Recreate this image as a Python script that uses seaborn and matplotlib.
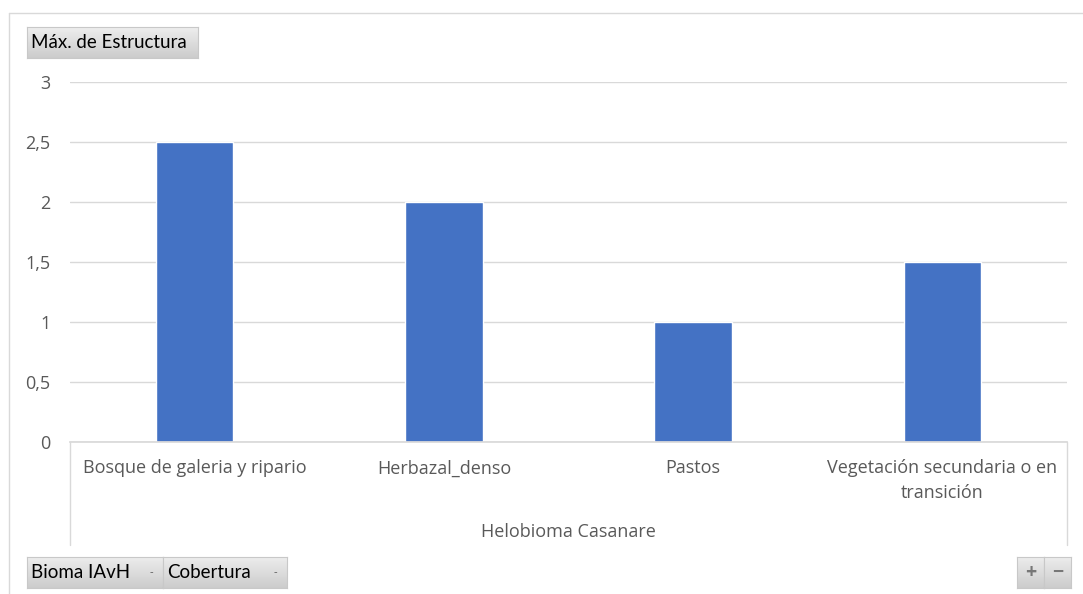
import numpy as np
import pandas as pd
import matplotlib
matplotlib.use("Agg")
import matplotlib.pyplot as plt
import seaborn as sns
from matplotlib.lines import Line2D

coberturas = ["Bosque de galeria y ripario", "Herbazal_denso", "Pastos",
              "Vegetación secundaria o en\ntransición"]
max_estructura = [2.5, 2.0, 1.0, 1.5]
bioma = "Helobioma Casanare"
yticks = [0, 0.5, 1, 1.5, 2, 2.5, 3]

sns.set_theme(style="white")
plt.rcParams['font.family'] = ['Open Sans', 'DejaVu Sans']

W, H = 1083, 594
fig = plt.figure(figsize=(W / 100, H / 100), dpi=100)

def fx(px):
    return px / W

def fy(py):
    return 1 - py / H

ax = fig.add_axes([fx(70), fy(442), fx(1067) - fx(70), fy(82) - fy(442)])

df = pd.DataFrame({"Cobertura": coberturas, "Max": max_estructura})
sns.barplot(data=df, x="Cobertura", y="Max", color="#4472C4", width=0.31,
            saturation=1, ax=ax)
ax.set_xlim(-0.5, 3.5)
ax.set_ylim(0, 3)
ax.set_yticks(yticks)
ax.set_yticklabels([("%g" % t).replace(".", ",") for t in yticks])
ax.yaxis.grid(True, color="#d9d9d9", linewidth=1)
ax.set_axisbelow(True)
for s in ["top", "right", "left"]:
    ax.spines[s].set_visible(False)
ax.spines["bottom"].set_color("#d9d9d9")
ax.tick_params(axis="y", length=0, labelsize=13, labelcolor="#595959", pad=14)
ax.tick_params(axis="x", length=0, labelsize=13, labelcolor="#595959", pad=12.5)
ax.set_xlabel("")
ax.set_ylabel("")
for lab in ax.get_xticklabels():
    lab.set_ha("center")
    lab.set_multialignment("center")
    lab.set_linespacing(1.45)

# category box lines
for px in (70, 1067):
    fig.add_artist(Line2D([fx(px), fx(px)], [fy(442), fy(545)], color="#d9d9d9", lw=1))
fig.text(fx(568), fy(532), bioma, ha="center", va="center", fontsize=13, color="#595959")

# outer chart border
fig.add_artist(Line2D([fx(9), fx(9)], [fy(13), 0], color="#d9d9d9", lw=1))
fig.add_artist(Line2D([fx(9), 1], [fy(13), fy(13)], color="#d9d9d9", lw=1))

# field buttons
grad = np.linspace(0.93, 0.80, 50).reshape(-1, 1)

def button(x0, y0, x1, y1, text=None, arrow=False):
    bax = fig.add_axes([fx(x0), fy(y1), fx(x1) - fx(x0), fy(y0) - fy(y1)])
    bax.imshow(grad, cmap="gray", vmin=0, vmax=1, aspect="auto", extent=[0, 1, 0, 1])
    bax.set_xlim(0, 1)
    bax.set_ylim(0, 1)
    bax.set_xticks([])
    bax.set_yticks([])
    for s in bax.spines.values():
        s.set_color("#c8c8c8")
        s.set_linewidth(0.8)
    if text:
        bax.text(4 / (x1 - x0), 0.5, text, ha="left", va="center", fontsize=13.5,
                 color="black", family=["Lato", "DejaVu Sans"])
    if arrow:
        bax.text(1 - 12 / (x1 - x0), 0.5, "-", ha="center", va="center", fontsize=8, color="#555555")
    return bax

button(27, 27, 198, 58, "Máx. de Estructura")
button(27, 557, 163, 588, "Bioma IAvH", arrow=True)
button(163, 557, 287, 588, "Cobertura", arrow=True)
b1 = button(1017, 557, 1044, 588)
b1.text(0.5, 0.5, "+", ha="center", va="center", fontsize=14, color="#777777", fontweight="bold")
b2 = button(1044, 557, 1071, 588)
b2.text(0.5, 0.5, "−", ha="center", va="center", fontsize=14, color="#777777", fontweight="bold")

fig.savefig("out.png", dpi=100)
